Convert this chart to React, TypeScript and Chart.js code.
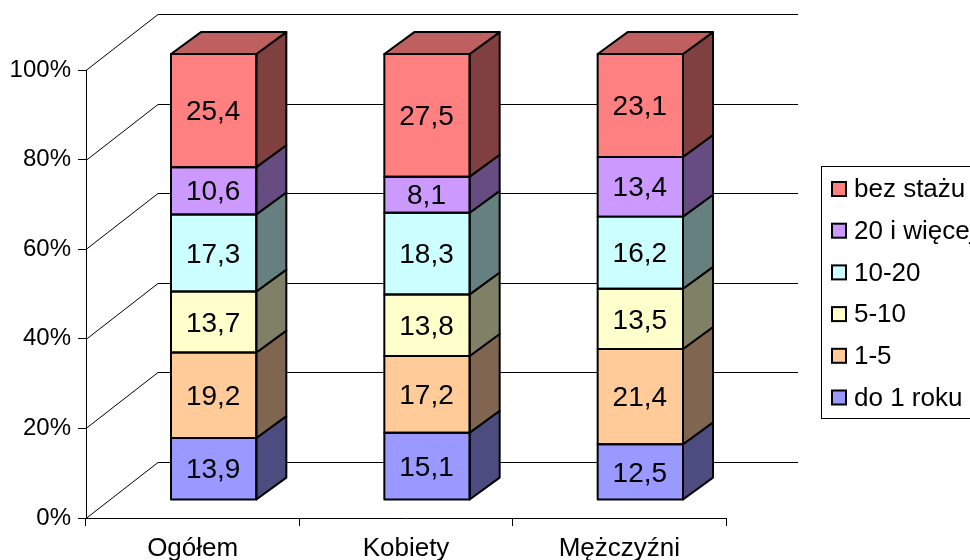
import React, { useEffect, useRef } from "react";
import { Chart, registerables } from "chart.js";

Chart.register(...registerables);

const categories = ["Ogółem", "Kobiety", "Mężczyźni"];
const doRoku = [13.9, 15.1, 12.5];
const jedenPiec = [19.2, 17.2, 21.4];
const piecDziesiec = [13.7, 13.8, 13.5];
const dziesiecDwadziescia = [17.3, 18.3, 16.2];
const dwadziesciaWiecej = [10.6, 8.1, 13.4];
const bezStazu = [25.4, 27.5, 23.1];

const seriesNames = ["do 1 roku", "1-5", "5-10", "10-20", "20 i więcej", "bez stażu"];
const seriesValues = [doRoku, jedenPiec, piecDziesiec, dziesiecDwadziescia, dwadziesciaWiecej, bezStazu];
const seriesColors = ["#9999FF", "#FFCC99", "#FFFFCC", "#CCFFFF", "#CC99FF", "#FF8080"];
const sideColors = ["#4C4C80", "#806650", "#808066", "#668080", "#664C80", "#804040"];
const topColors = ["#7373BF", "#BF9973", "#BFBF99", "#99BFBF", "#9973BF", "#BF6060"];

const FONT = "Liberation Sans, Arial, sans-serif";
const WALL = { dx: 72, dy: -56 };
const BAR_SHIFT_X = 21;
const BAR_BOTTOM = 500;
const BAR_SQUEEZE = 446 / 448;
const BAR_DEPTH = { dx: 30, dy: -22 };

const totals = categories.map((_, i) => seriesValues.reduce((s, v) => s + v[i], 0));

function poly(ctx: CanvasRenderingContext2D, pts: number[][], fill: string | null) {
  ctx.beginPath();
  pts.forEach((p, i) => (i ? ctx.lineTo(p[0], p[1]) : ctx.moveTo(p[0], p[1])));
  ctx.closePath();
  if (fill) {
    ctx.fillStyle = fill;
    ctx.fill();
  }
  ctx.lineWidth = 2;
  ctx.strokeStyle = "#000";
  ctx.lineJoin = "round";
  ctx.stroke();
}

const box3d = {
  id: "box3d",
  beforeDatasetsDraw(chart: any) {
    const { ctx, chartArea, scales } = chart;
    ctx.save();
    ctx.strokeStyle = "#000";
    ctx.lineWidth = 1;
    const ticks = scales.y.ticks.map((t: any) => t.value);
    ticks.forEach((v: number) => {
      const y = Math.round(scales.y.getPixelForValue(v)) + 0.5;
      ctx.beginPath();
      ctx.moveTo(chartArea.left, y);
      ctx.lineTo(chartArea.left + WALL.dx, y + WALL.dy);
      ctx.lineTo(chartArea.right + WALL.dx, y + WALL.dy);
      ctx.stroke();
    });
    ctx.restore();
    ctx.save();
    ctx.translate(BAR_SHIFT_X, BAR_BOTTOM - chartArea.bottom * BAR_SQUEEZE);
    ctx.scale(1, BAR_SQUEEZE);
  },
  afterDatasetsDraw(chart: any) {
    const { ctx } = chart;
    const n = chart.data.datasets.length;
    for (let d = 0; d < n; d++) {
      chart.getDatasetMeta(d).data.forEach((el: any) => {
        const right = el.x + el.width / 2;
        const left = el.x - el.width / 2;
        const top = el.y;
        const base = el.base;
        poly(
          ctx,
          [
            [right, top],
            [right + BAR_DEPTH.dx, top + BAR_DEPTH.dy],
            [right + BAR_DEPTH.dx, base + BAR_DEPTH.dy],
            [right, base],
          ],
          sideColors[d]
        );
        poly(
          ctx,
          [
            [left, top],
            [right, top],
            [right, base],
            [left, base],
          ],
          null
        );
        if (d === n - 1) {
          poly(
            ctx,
            [
              [left, top],
              [left + BAR_DEPTH.dx, top + BAR_DEPTH.dy],
              [right + BAR_DEPTH.dx, top + BAR_DEPTH.dy],
              [right, top],
            ],
            topColors[d]
          );
        }
      });
    }
    ctx.fillStyle = "#000";
    ctx.font = `28px ${FONT}`;
    ctx.textAlign = "center";
    ctx.textBaseline = "middle";
    for (let d = 0; d < n; d++) {
      chart.getDatasetMeta(d).data.forEach((el: any, i: number) => {
        const label = String(seriesValues[d][i]).replace(".", ",");
        ctx.fillText(label, el.x - 0.5, (el.y + el.base) / 2 + 2);
      });
    }
    ctx.restore();
  },
  afterDraw(chart: any) {
    const { ctx } = chart;
    ctx.save();
    ctx.fillStyle = "#fff";
    ctx.strokeStyle = "#000";
    ctx.lineWidth = 1;
    ctx.fillRect(822, 167, 160, 251);
    ctx.strokeRect(821.5, 166.5, 160, 252);
    ctx.font = `26px ${FONT}`;
    ctx.textAlign = "left";
    ctx.textBaseline = "middle";
    const names = chart.data.datasets.map((ds: any) => ds.label).reverse();
    const fills = chart.data.datasets.map((ds: any) => ds.backgroundColor).reverse();
    names.forEach((name: string, i: number) => {
      const cy = 189 + i * 41.7;
      ctx.fillStyle = fills[i];
      ctx.fillRect(832, cy - 7, 14, 14);
      ctx.lineWidth = 2;
      ctx.strokeRect(832, cy - 7, 14, 14);
      ctx.fillStyle = "#000";
      ctx.fillText(name, 854, cy + 1);
    });
    ctx.restore();
  },
};

export default function App() {
  const ref = useRef<HTMLCanvasElement>(null);
  useEffect(() => {
    const chart = new Chart(ref.current as HTMLCanvasElement, {
      type: "bar",
      data: {
        labels: categories,
        datasets: seriesNames.map((name, s) => ({
          label: name,
          data: seriesValues[s].map((v, i) => (v / totals[i]) * 100),
          backgroundColor: seriesColors[s],
          borderWidth: 0,
          clip: false,
          categoryPercentage: 0.4,
          barPercentage: 1,
        })),
      },
      options: {
        animation: false,
        responsive: false,
        events: [],
        layout: { padding: { left: 0, right: 244, top: 70, bottom: 0 } },
        plugins: { legend: { display: false }, tooltip: { enabled: false } },
        scales: {
          x: {
            stacked: true,
            grid: { drawOnChartArea: false, drawTicks: true, tickLength: 8, color: "#000", offset: true },
            border: { color: "#000", width: 1 },
            ticks: { color: "#000", font: { size: 26, family: FONT }, padding: 7, maxRotation: 0 },
            afterFit: (s: any) => { s.height = 42; },
          },
          y: {
            stacked: true,
            min: 0,
            max: 100,
            grid: { drawOnChartArea: false, drawTicks: true, tickLength: 8, color: "#000" },
            border: { color: "#000", width: 1 },
            ticks: {
              stepSize: 20,
              color: "#000",
              font: { size: 24, family: FONT },
              padding: 7,
              callback: (v: any) => `${v}%`,
            },
            afterFit: (s: any) => { s.width = 86; },
          },
        },
      },
      plugins: [box3d],
    } as any);
    return () => chart.destroy();
  }, []);
  return (
    <div style={{ position: "absolute", left: 0, top: 0, width: 970, height: 560, overflow: "hidden", background: "#fff" }}>
      <canvas ref={ref} width={970} height={560} style={{ display: "block" }} />
    </div>
  );
}
